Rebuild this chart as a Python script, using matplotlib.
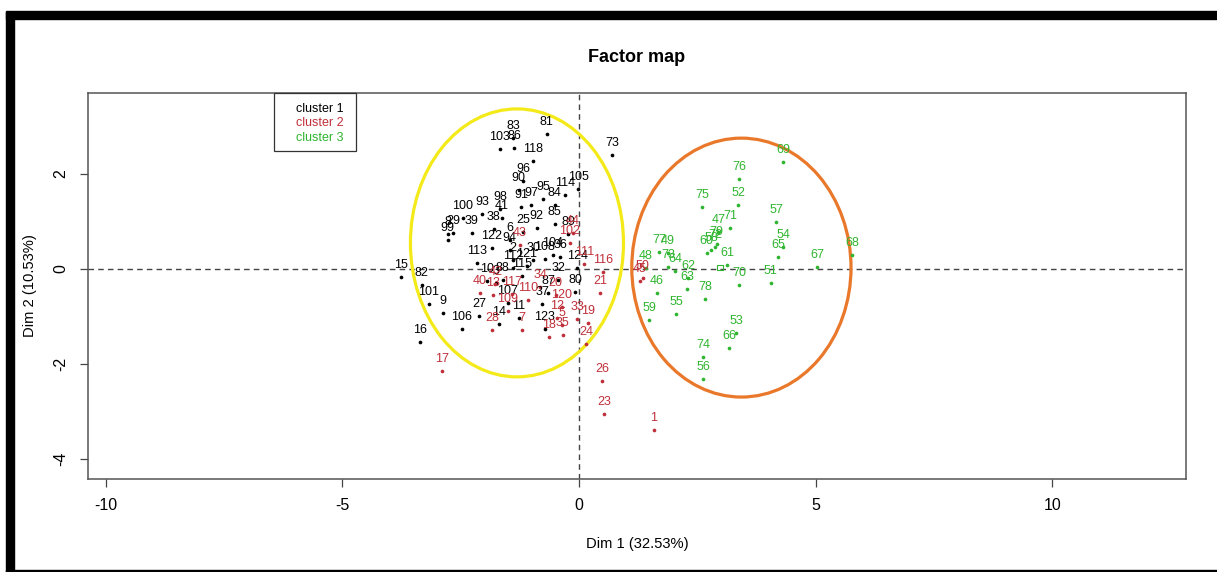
import matplotlib
matplotlib.use("Agg")
import matplotlib.pyplot as plt
from matplotlib.patches import Ellipse, Rectangle

plt.rcParams['font.family'] = ['Liberation Sans', 'DejaVu Sans']
plt.rcParams['axes.unicode_minus'] = False

# individuals (Dim 1, Dim 2)
c1_lab = ["81", "83", "103", "86", "118", "96", "90", "91", "97", "95", "84", "114",
          "105", "98", "41", "93", "100", "38", "25", "92", "85", "39", "29", "8",
          "99", "122", "6", "94", "89", "104", "36", "113", "112", "121", "115", "2",
          "30", "108", "124", "10", "3", "88", "80", "32", "37", "87", "107", "11",
          "14", "27", "106", "123", "15", "82", "101", "9", "16", "73"]
c1_x = [-0.68, -1.39, -1.67, -1.37, -0.97, -1.18, -1.27, -1.22, -1.01, -0.76, -0.51, -0.30,
        -0.02, -1.67, -1.63, -2.05, -2.45, -1.80, -1.18, -0.89, -0.51, -2.26, -2.66, -2.77,
        -2.77, -1.84, -1.46, -1.46, -0.23, -0.55, -0.40, -2.15, -1.39, -1.10, -1.20, -1.39,
        -0.97, -0.72, -0.04, -1.94, -1.75, -1.61, -0.08, -0.44, -0.78, -0.65, -1.50, -1.27,
        -1.69, -2.11, -2.47, -0.72, -3.76, -3.32, -3.17, -2.87, -3.36, 0.70]
c1_y = [2.84, 2.76, 2.53, 2.55, 2.27, 1.85, 1.66, 1.31, 1.35, 1.47, 1.35, 1.56,
        1.68, 1.26, 1.07, 1.16, 1.07, 0.84, 0.78, 0.86, 0.95, 0.76, 0.76, 0.74,
        0.61, 0.44, 0.61, 0.40, 0.74, 0.29, 0.25, 0.13, 0.02, 0.06, -0.15, 0.19,
        0.19, 0.21, 0.02, -0.25, -0.29, -0.23, -0.48, -0.23, -0.74, -0.51, -0.72, -1.03,
        -1.16, -0.99, -1.26, -1.26, -0.17, -0.34, -0.74, -0.93, -1.54, 2.40]

c2_lab = ["44", "102", "43", "111", "116", "21", "40", "42", "13", "117", "110", "109",
          "28", "7", "120", "12", "5", "18", "35", "33", "19", "24", "26", "23",
          "1", "17", "50", "45", "20", "34"]
c2_x = [-0.13, -0.19, -1.25, 0.11, 0.51, 0.44, -2.09, -1.77, -1.82, -1.41, -1.08, -1.50,
        -1.84, -1.20, -0.36, -0.46, -0.36, -0.63, -0.34, -0.04, 0.19, 0.15, 0.49, 0.53,
        1.58, -2.89, 1.35, 1.29, -0.49, -0.82]
c2_y = [0.76, 0.55, 0.51, 0.11, -0.06, -0.51, -0.51, -0.32, -0.55, -0.53, -0.65, -0.88,
        -1.28, -1.28, -0.80, -1.03, -1.18, -1.43, -1.39, -1.05, -1.14, -1.58, -2.36, -3.05,
        -3.39, -2.15, -0.19, -0.25, -0.55, -0.38]

c3_lab = ["69", "76", "75", "52", "57", "47", "71", "54", "65", "67", "68", "77",
          "49", "72", "79", "60", "58", "61", "48", "73", "64", "62", "63", "46",
          "78", "70", "51", "55", "59", "53", "66", "74", "56"]
c3_x = [4.31, 3.38, 2.60, 3.36, 4.16, 2.94, 3.19, 4.31, 4.20, 5.03, 5.77, 1.69,
        1.88, 2.87, 2.91, 2.70, 2.79, 3.13, 1.41, 1.88, 2.03, 2.30, 2.28, 1.65,
        2.66, 3.38, 4.05, 2.05, 1.48, 3.32, 3.17, 2.62, 2.62]
c3_y = [2.25, 1.89, 1.31, 1.35, 0.99, 0.78, 0.86, 0.46, 0.25, 0.04, 0.29, 0.36,
        0.34, 0.46, 0.53, 0.34, 0.40, 0.08, 0.02, 0.04, -0.04, -0.19, -0.42, -0.51,
        -0.63, -0.34, -0.29, -0.95, -1.07, -1.35, -1.66, -1.85, -2.32]
c3_center = (2.98, 0.04)

# hand-drawn ellipses around clusters: center x, center y, width, height
ell_x = [-1.31, 3.43]
ell_y = [0.55, 0.03]
ell_w = [4.50, 4.63]
ell_h = [5.64, 5.45]
ell_col = ["#F4EA1A", "#E9782B"]

clusters = ["cluster 1", "cluster 2", "cluster 3"]
colors = ["black", "#C0303A", "#2FB52F"]

W, H = 1217, 572
fig = plt.figure(figsize=(W / 100, H / 100), dpi=100)
ax = fig.add_axes([88 / W, 1 - 479 / H, 1098 / W, 386 / H])

data = [(c1_lab, c1_x, c1_y), (c2_lab, c2_x, c2_y), (c3_lab, c3_x, c3_y)]
for (lab, xs, ys), col in zip(data, colors):
    ax.scatter(xs, ys, s=7, c=col, linewidths=0, zorder=3)
    for t, x, y in zip(lab, xs, ys):
        ax.annotate(t, (x, y), xytext=(0, 12), textcoords="offset pixels",
                    ha="center", va="center", fontsize=9, color=col, zorder=4)
ax.scatter([c3_center[0]], [c3_center[1]], marker="s", s=14, facecolors="none",
           edgecolors=colors[2], linewidths=0.8, zorder=3)

for cx, cy, w, h, col in zip(ell_x, ell_y, ell_w, ell_h, ell_col):
    ax.add_patch(Ellipse((cx, cy), w, h, fill=False, edgecolor=col, lw=2.3, zorder=2))

ax.axhline(0, color="#444444", lw=1, ls=(0, (4, 3)), zorder=1)
ax.axvline(0, color="#444444", lw=1, ls=(0, (4, 3)), zorder=1)

ax.set_xlim(-10.37, 12.82)
ax.set_ylim(-4.42, 3.705)
ax.set_xticks([-10, -5, 0, 5, 10])
ax.set_yticks([-4, -2, 0, 2])
ax.tick_params(length=6, width=0.9, color="#444444", labelsize=11.5, pad=8)
for lbl in ax.get_yticklabels():
    lbl.set_rotation(90)
    lbl.set_va("center")
for sp_ in ax.spines.values():
    sp_.set_color("#555555")
    sp_.set_linewidth(1.1)

# legend box with coloured text only
fig.patches.append(Rectangle((274 / W, 1 - 151 / H), 82 / W, 58 / H, transform=fig.transFigure,
                             facecolor="white", edgecolor="#333333", lw=0.9, zorder=5))
for i, (name, col) in enumerate(zip(clusters, colors)):
    fig.text(296 / W, 1 - (109 + 14.5 * i) / H, name, ha="left", va="center",
             fontsize=9, color=col, zorder=6)

fig.text(637 / W, 1 - 57 / H, "Factor map", ha="center", va="center",
         fontsize=13, fontweight="bold")
fig.text(637 / W, 1 - 544 / H, "Dim 1 (32.53%)", ha="center", va="center", fontsize=10.6)
fig.text(30 / W, 1 - 286 / H, "Dim 2 (10.53%)", ha="center", va="center",
         rotation=90, fontsize=10.6)

# screenshot frame
fig.patches.append(Rectangle((6 / W, 1 - 19 / H), 1, 8 / H, transform=fig.transFigure,
                             color="black", zorder=10))
fig.patches.append(Rectangle((6 / W, 0), 8 / W, 1 - 12 / H, transform=fig.transFigure,
                             color="black", zorder=10))
fig.patches.append(Rectangle((6 / W, 0), 1, 2 / H, transform=fig.transFigure,
                             color="black", zorder=10))

fig.savefig("out.png", dpi=100)
